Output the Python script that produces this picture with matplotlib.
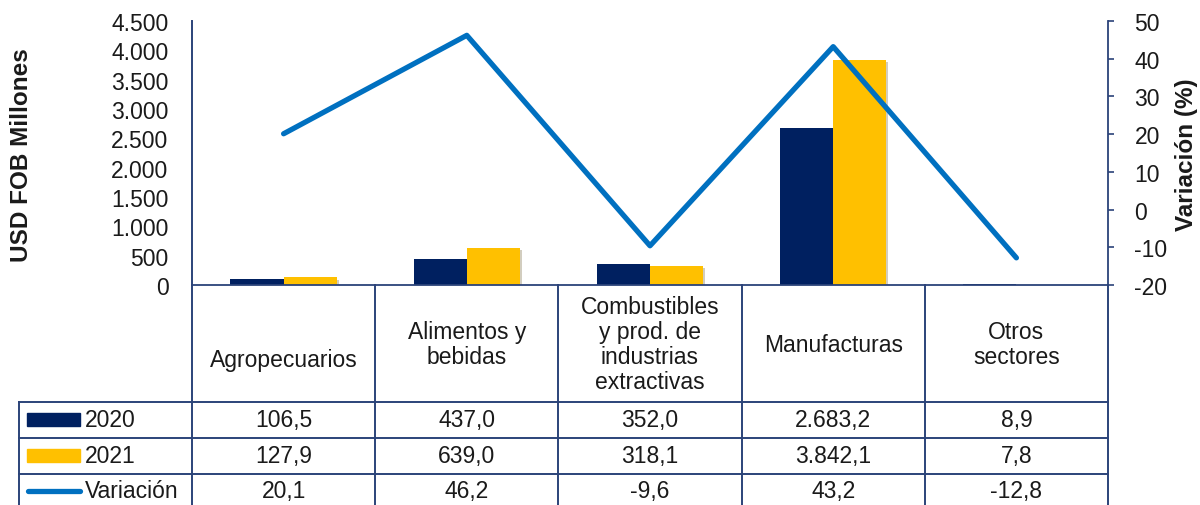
import matplotlib
matplotlib.use("Agg")
import matplotlib.pyplot as plt
import matplotlib.patheffects as pe
from matplotlib.ticker import FuncFormatter
import numpy as np

# datos
categorias = ["Agropecuarios", "Alimentos y\nbebidas",
              "Combustibles\ny prod. de\nindustrias\nextractivas",
              "Manufacturas", "Otros\nsectores"]
anio_2020 = [106.5, 437.0, 352.0, 2683.2, 8.9]
anio_2021 = [127.9, 639.0, 318.1, 3842.1, 7.8]
variacion = [20.1, 46.2, -9.6, 43.2, -12.8]

NAVY = "#002060"
GOLD = "#FFC000"
BLUE = "#0070C0"
GRID = "#2B4379"
TXT = "#1a1a1a"
FS = 16.5

plt.rcParams['font.family'] = ['Liberation Sans', 'DejaVu Sans']
plt.rcParams['axes.unicode_minus'] = False


def fmt_es(v, dec=1):
    s = f"{v:,.{dec}f}"
    return s.replace(",", "X").replace(".", ",").replace("X", ".")


W, H = 1200, 506
fig = plt.figure(figsize=(W / 100, H / 100), dpi=100)

# posiciones en pixeles
x0, x1 = 192, 1108
y_top, y_zero = 22, 286
ax = fig.add_axes([x0 / W, 1 - y_zero / H, (x1 - x0) / W, (y_zero - y_top) / H])

n = len(categorias)
x = np.arange(n)
bw = 0.29
sombra = [pe.SimplePatchShadow(offset=(1.5, -1.5), alpha=0.25), pe.Normal()]
ax.bar(x - bw / 2, anio_2020, bw, color=NAVY, path_effects=sombra, zorder=2)
ax.bar(x + bw / 2, anio_2021, bw, color=GOLD, path_effects=sombra, zorder=2)
ax.set_xlim(-0.5, n - 0.5)
ax.set_ylim(0, 4500)
ax.set_yticks(np.arange(0, 4501, 500))
ax.yaxis.set_major_formatter(FuncFormatter(lambda v, p: fmt_es(v, 0)))
ax.tick_params(axis='y', length=0, pad=17, labelsize=FS, labelcolor=TXT)
ax.set_xticks([])
for s in ["top", "right", "left"]:
    ax.spines[s].set_visible(False)
ax.spines["bottom"].set_color(GRID)
ax.spines["bottom"].set_linewidth(1.3)

ax2 = ax.twinx()
ax2.plot(x, variacion, color=BLUE, lw=3.8, solid_capstyle='round', zorder=3)
ax2.set_ylim(-20, 50)
ax2.set_yticks(np.arange(-20, 51, 10))
ax2.tick_params(axis='y', length=4, width=1.2, color=GRID, pad=15, labelsize=FS, labelcolor=TXT)
for s in ["top", "left", "bottom"]:
    ax2.spines[s].set_visible(False)
ax2.spines["right"].set_color(GRID)
ax2.spines["right"].set_linewidth(1.3)

fig.text(22 / W, 1 - 155 / H, "USD FOB Millones", rotation=90, ha='center', va='center',
         fontsize=17.5, fontweight='bold', color=TXT)
fig.text(1186 / W, 1 - 155 / H, "Variación (%)", rotation=90, ha='center', va='center',
         fontsize=17.5, fontweight='bold', color=TXT)

# tabla de datos
tax = fig.add_axes([0, 0, 1, 1])
tax.set_xlim(0, W)
tax.set_ylim(H, 0)
tax.axis('off')
tax.patch.set_alpha(0)

col_w = (x1 - x0) / n
bordes = [x0 + i * col_w for i in range(n + 1)]
x_leg = 19
filas_y = [403, 439, 475]
lw_t = 1.4

tax.plot([x0, x0], [y_top, H], color=GRID, lw=lw_t)
for b in bordes[1:]:
    tax.plot([b, b], [y_zero, H], color=GRID, lw=lw_t)
for yy in filas_y:
    tax.plot([x_leg, x1], [yy, yy], color=GRID, lw=lw_t)
tax.plot([x_leg, x_leg], [filas_y[0], H], color=GRID, lw=lw_t)

for i, cat in enumerate(categorias):
    cx = (bordes[i] + bordes[i + 1]) / 2
    cy = 360 if i == 0 else 345
    tax.text(cx, cy, cat, ha='center', va='center', fontsize=FS,
             color=TXT, linespacing=1.1)

filas = [anio_2020, anio_2021, variacion]
centros = [421, 457, 492]
for fila, cy in zip(filas, centros):
    for i, v in enumerate(fila):
        cx = (bordes[i] + bordes[i + 1]) / 2
        tax.text(cx, cy, fmt_es(v), ha='center', va='center', fontsize=FS, color=TXT)

# leyenda dentro de la tabla
tax.add_patch(plt.Rectangle((27, 414), 53, 13, color=NAVY))
tax.add_patch(plt.Rectangle((27, 450), 53, 13, color=GOLD))
tax.plot([28, 80], [492, 492], color=BLUE, lw=3.8, solid_capstyle='round')
for lab, cy in zip(["2020", "2021", "Variación"], centros):
    tax.text(85, cy, lab, ha='left', va='center', fontsize=FS, color=TXT)

fig.savefig("out.png", dpi=100)
